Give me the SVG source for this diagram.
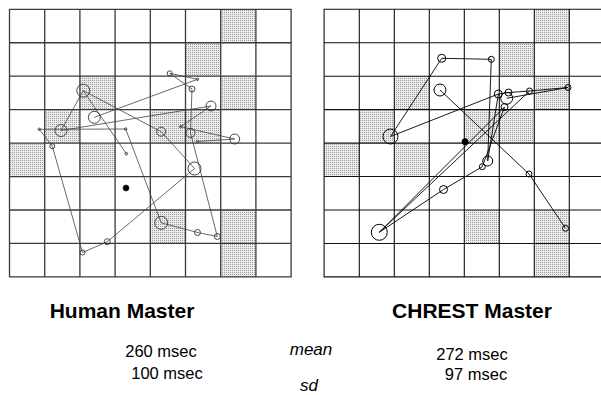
<svg xmlns="http://www.w3.org/2000/svg" width="601" height="395" viewBox="0 0 601 395">
<style>
.grid-l{stroke:#3a3a3a;stroke-width:1.3;fill:none}
.grid-r{stroke:#111;stroke-width:1.1;fill:none}
.sh{fill:url(#dots);stroke:none}
.pl{stroke:#444;stroke-width:0.8;fill:none}
.pr{stroke:#000;stroke-width:0.9;fill:none}
.fl{stroke:#333;stroke-width:0.9;fill:none}
.fr{stroke:#000;stroke-width:1;fill:none}
.dot{fill:#000}
.title{font-family:"Liberation Sans",Arial,sans-serif;font-weight:bold;font-size:21px;fill:#000;text-anchor:middle}
.val{font-family:"Liberation Sans",Arial,sans-serif;font-size:16.5px;fill:#000;text-anchor:middle}
.it{font-family:"Liberation Sans",Arial,sans-serif;font-size:17px;font-style:italic;fill:#000;text-anchor:middle}
</style>
<defs>
<pattern id="dots" width="2" height="2" patternUnits="userSpaceOnUse">
<rect width="2" height="2" fill="#ececec"/>
<rect width="1" height="1" fill="#9a9a9a"/>
</pattern>
</defs>
<rect width="601" height="395" fill="#fff"/>

<g id="board-left">
<g>
<rect class="sh" x="220.7" y="9.3" width="35.2" height="33.45"/>
<rect class="sh" x="185.5" y="42.75" width="35.2" height="33.45"/>
<rect class="sh" x="79.9" y="76.2" width="35.2" height="33.45"/>
<rect class="sh" x="220.7" y="76.2" width="35.2" height="33.45"/>
<rect class="sh" x="44.7" y="109.65" width="35.2" height="33.45"/>
<rect class="sh" x="150.3" y="109.65" width="70.4" height="33.45"/>
<rect class="sh" x="9.5" y="143.1" width="35.2" height="33.45"/>
<rect class="sh" x="79.9" y="143.1" width="35.2" height="33.45"/>
<rect class="sh" x="150.3" y="210" width="35.2" height="33.45"/>
<rect class="sh" x="220.7" y="210" width="35.2" height="66.9"/>
</g>
<path class="grid-l" d="M9.5 9.3H291.1V276.9H9.5Z M44.7 9.3V276.9 M79.9 9.3V276.9 M115.1 9.3V276.9 M150.3 9.3V276.9 M185.5 9.3V276.9 M220.7 9.3V276.9 M255.9 9.3V276.9 M9.5 42.75H291.1 M9.5 76.2H291.1 M9.5 109.65H291.1 M9.5 143.1H291.1 M9.5 176.55H291.1 M9.5 210H291.1 M9.5 243.45H291.1"/>
</g>

<g id="board-right">
<g>
<rect class="sh" x="534.3" y="9.3" width="35" height="33.45"/>
<rect class="sh" x="499.3" y="42.75" width="35" height="33.45"/>
<rect class="sh" x="394.3" y="76.2" width="35" height="33.45"/>
<rect class="sh" x="534.3" y="76.2" width="35" height="33.45"/>
<rect class="sh" x="359.3" y="109.65" width="35" height="33.45"/>
<rect class="sh" x="464.3" y="109.65" width="70" height="33.45"/>
<rect class="sh" x="324.1" y="143.1" width="35.2" height="33.45"/>
<rect class="sh" x="394.3" y="143.1" width="35" height="33.45"/>
<rect class="sh" x="464.3" y="210" width="35" height="33.45"/>
<rect class="sh" x="534.3" y="210" width="35" height="66.9"/>
</g>
<path class="grid-r" d="M604 9.3H324.1V276.9H604 M359.3 9.3V276.9 M394.3 9.3V276.9 M429.3 9.3V276.9 M464.3 9.3V276.9 M499.3 9.3V276.9 M534.3 9.3V276.9 M569.3 9.3V276.9 M324.1 42.75H601 M324.1 76.2H601 M324.1 109.65H601 M324.1 143.1H601 M324.1 176.55H601 M324.1 210H601 M324.1 243.45H601"/>
</g>

<g id="connectors">
<g id="paths-left" class="pl">
<path d="M39.3 129.3L52.3 146.2L82.5 252.5L107.3 241.7L194.5 168.5L161.2 131.7L83.3 90.7L61 130.5"/>
<path d="M83.3 90.7L126.3 153.7"/>
<path d="M61 130.5L211 106L180.7 126.7L234.7 139L197.5 141.5"/>
<path d="M94.3 117.3L197.5 79.3L169.7 73.3L192 89L190.5 133L217.3 236.5L197.5 232.5L161.2 222.8L125.7 129L39.3 129.3"/>
</g>
<g id="paths-right" class="pr">
<path d="M390.5 136.5L441.7 58.3L491.3 59.3L487.7 161L498.3 94"/>
<path d="M390.5 136.5L498.3 94L508.5 92.5L529.5 91L568 87.5L506.7 98.3"/>
<path d="M504.5 107L482.3 166.7L443.5 189.5L379.3 232.3L529.5 91"/>
<path d="M379.3 232.3L504.5 107"/>
<path d="M440 90L529 174L565.5 228.3"/>
</g>
</g>

<g id="fixations-left" class="fl">
<g id="fl-a"><circle cx="83.3" cy="90.7" r="6.5"/></g>
<g id="fl-b"><circle cx="94.3" cy="117.3" r="6"/></g>
<g id="fl-c"><circle cx="61" cy="130.5" r="6"/></g>
<g id="fl-d"><circle cx="39.3" cy="129.3" r="1.2"/></g>
<g id="fl-e"><circle cx="52.3" cy="146.2" r="2.5"/></g>
<g id="fl-f"><circle cx="82.5" cy="252.5" r="2.5"/></g>
<g id="fl-g"><circle cx="107.3" cy="241.7" r="3"/></g>
<g id="fl-h"><circle cx="194.5" cy="168.5" r="6.5"/></g>
<g id="fl-i"><circle cx="126.3" cy="153.7" r="1.3"/></g>
<g id="fl-k"><circle cx="125.7" cy="129" r="1.2"/></g>
<g id="fl-l"><circle cx="161.2" cy="131.7" r="4.5"/></g>
<g id="fl-m"><circle cx="169.7" cy="73.3" r="2.5"/></g>
<g id="fl-n"><circle cx="197.5" cy="79.3" r="1.2"/></g>
<g id="fl-o"><circle cx="192" cy="89" r="3"/></g>
<g id="fl-p"><circle cx="211" cy="106" r="5"/></g>
<g id="fl-q"><circle cx="180.7" cy="126.7" r="1.2"/></g>
<g id="fl-r"><circle cx="190.5" cy="133" r="4.5"/></g>
<g id="fl-s"><circle cx="197.5" cy="141.5" r="1.2"/></g>
<g id="fl-t"><circle cx="234.7" cy="139" r="5"/></g>
<g id="fl-u"><circle cx="161.2" cy="222.8" r="6.5"/></g>
<g id="fl-v"><circle cx="197.5" cy="232.5" r="3"/></g>
<g id="fl-w"><circle cx="217.3" cy="236.5" r="3"/></g>
<g id="fl-center"><circle class="dot" cx="126" cy="188" r="3"/></g>
</g>

<g id="fixations-right" class="fr">
<g id="fr-t1"><circle cx="441.7" cy="58.3" r="4"/></g>
<g id="fr-t2"><circle cx="491.3" cy="59.3" r="3"/></g>
<g id="fr-a"><circle cx="390.5" cy="136.5" r="7.5"/></g>
<g id="fr-b"><circle cx="440" cy="90" r="6"/></g>
<g id="fr-c"><circle cx="379.3" cy="232.3" r="8"/></g>
<g id="fr-d"><circle cx="443.5" cy="189.5" r="4"/></g>
<g id="fr-e"><circle cx="482.3" cy="166.7" r="3"/></g>
<g id="fr-f"><circle cx="487.7" cy="161" r="5"/></g>
<g id="fr-h"><circle cx="498.3" cy="94" r="4"/></g>
<g id="fr-i"><circle cx="506.7" cy="98.3" r="6"/></g>
<g id="fr-j"><circle cx="504.5" cy="107" r="3.5"/></g>
<g id="fr-k"><circle cx="508.5" cy="92.5" r="3.5"/></g>
<g id="fr-l"><circle cx="529.5" cy="91" r="3"/></g>
<g id="fr-m"><circle cx="568" cy="87.5" r="3"/></g>
<g id="fr-n"><circle cx="529" cy="174" r="3"/></g>
<g id="fr-o"><circle cx="565.5" cy="228.3" r="3"/></g>
<g id="fr-center"><circle class="dot" cx="465" cy="141.7" r="3"/></g>
</g>

<g id="labels">
<text class="title" x="122" y="318">Human Master</text>
<text class="title" x="472" y="318">CHREST Master</text>
<text class="val" x="161" y="357">260 msec</text>
<text class="it" x="311" y="355">mean</text>
<text class="val" x="472" y="360">272 msec</text>
<text class="val" x="167" y="379">100 msec</text>
<text class="it" x="309" y="391">sd</text>
<text class="val" x="476" y="380">97 msec</text>
</g>
</svg>
